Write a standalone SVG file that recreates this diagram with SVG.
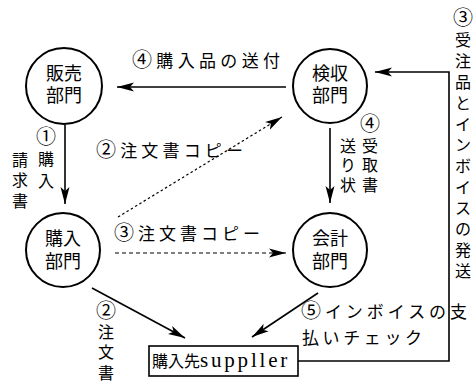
<svg xmlns="http://www.w3.org/2000/svg" width="475" height="381" viewBox="0 0 475 381">
<defs>
<marker id="ah" markerUnits="userSpaceOnUse" markerWidth="18" markerHeight="10" refX="17" refY="5" orient="auto">
<path d="M0,0.5 L17,5 L0,9.5 L4,5 z" fill="#000"/>
</marker>
<style>
.node circle{fill:#fff;stroke:#000;stroke-width:2}
.node rect{fill:#fff;stroke:#000;stroke-width:1.6}
text{font-family:"Liberation Serif","Noto Sans CJK JP",serif;fill:#000}
.nl{font-size:18px;text-anchor:middle}
.lb{font-size:17px}
.vt{font-size:16px;text-anchor:middle}
.cd{font-size:20px}
.ln{fill:none;stroke:#000;stroke-width:1.6}
.ar{marker-end:url(#ah)}
.dot{stroke-dasharray:2.5 2.5;stroke-width:1.2}
.dash{stroke-dasharray:4 3;stroke-width:1.2}
</style>
</defs>
<g id="connectors">
<line class="ln ar" x1="286" y1="87" x2="117" y2="87"/>
<line class="ln ar" x1="65" y1="125" x2="65" y2="204"/>
<line class="ln ar" x1="330" y1="128" x2="330" y2="203"/>
<line class="ln ar dot" x1="118" y1="217" x2="282" y2="117"/>
<line class="ln ar dash" x1="115" y1="253" x2="286" y2="253"/>
<line class="ln ar" x1="92" y1="288" x2="185" y2="338"/>
<line class="ln ar" x1="318" y1="293" x2="252" y2="337"/>
<polyline class="ln ar" points="298,361 449,361 449,72 375,72"/>
</g>
<g id="label-send">
<text class="lb" x="132" y="67" textLength="148" lengthAdjust="spacing"><tspan class="cd">④</tspan>購入品の送付</text>
</g>
<g id="label-copy2">
<text class="lb" x="96" y="157" textLength="147" lengthAdjust="spacing"><tspan class="cd">②</tspan>注文書コピー</text>
</g>
<g id="label-copy3">
<text class="lb" x="114" y="240" textLength="146" lengthAdjust="spacing"><tspan class="cd">③</tspan>注文書コピー</text>
</g>
<g id="label-check">
<text class="lb" x="301" y="318" textLength="166" lengthAdjust="spacing"><tspan class="cd">⑤</tspan>インボイスの支</text>
<text class="lb" x="302" y="344" textLength="120" lengthAdjust="spacing">払いチェック</text>
</g>
<g id="label-request">
<text class="vt"><tspan class="cd" x="46" y="144">①</tspan><tspan x="46" y="165">購</tspan><tspan x="46" y="187">入</tspan><tspan x="20" y="166">請</tspan><tspan x="20" y="186">求</tspan><tspan x="20" y="207">書</tspan></text>
</g>
<g id="label-receipt">
<text class="vt"><tspan class="cd" x="370" y="131">④</tspan><tspan x="370" y="152">受</tspan><tspan x="370" y="171">取</tspan><tspan x="370" y="191">書</tspan><tspan x="348" y="152">送</tspan><tspan x="348" y="171">り</tspan><tspan x="348" y="191">状</tspan></text>
</g>
<g id="label-order">
<text class="vt"><tspan class="cd" x="106" y="318">②</tspan><tspan x="106" y="338">注</tspan><tspan x="106" y="358">文</tspan><tspan x="106" y="379">書</tspan></text>
</g>
<g id="label-ship">
<text class="vt"><tspan class="cd" x="463" y="25">③</tspan><tspan x="463" y="46">受</tspan><tspan x="463" y="67">注</tspan><tspan x="463" y="88">品</tspan><tspan x="463" y="109">と</tspan><tspan x="463" y="130">イ</tspan><tspan x="463" y="151">ン</tspan><tspan x="463" y="172">ボ</tspan><tspan x="463" y="193">イ</tspan><tspan x="463" y="214">ス</tspan><tspan x="463" y="235">の</tspan><tspan x="463" y="256">発</tspan><tspan x="463" y="277">送</tspan></text>
</g>
<g id="sales" class="node">
<circle cx="64" cy="86" r="38"/>
<text class="nl"><tspan x="64" y="80">販売</tspan><tspan x="64" y="102">部門</tspan></text>
</g>
<g id="inspection" class="node">
<circle cx="330" cy="86" r="37"/>
<text class="nl"><tspan x="330" y="80">検収</tspan><tspan x="330" y="102">部門</tspan></text>
</g>
<g id="purchasing" class="node">
<circle cx="63" cy="250" r="37"/>
<text class="nl"><tspan x="63" y="245">購入</tspan><tspan x="63" y="268">部門</tspan></text>
</g>
<g id="accounting" class="node">
<circle cx="330" cy="250" r="37"/>
<text class="nl"><tspan x="330" y="245">会計</tspan><tspan x="330" y="268">部門</tspan></text>
</g>
<g id="supplier" class="node">
<rect x="149" y="346" width="149" height="30"/>
<text x="152" y="367"><tspan font-size="16">購入先</tspan><tspan font-size="21" letter-spacing="2.8">suppller</tspan></text>
</g>
</svg>
